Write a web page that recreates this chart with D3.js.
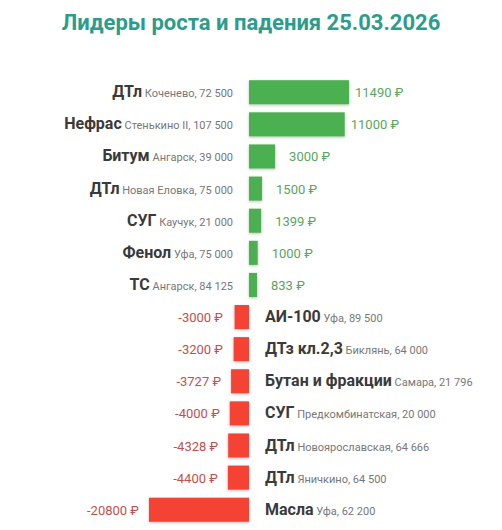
<!DOCTYPE html>
<html><head><meta charset="utf-8">
<script src="https://cdn.jsdelivr.net/npm/d3@7/dist/d3.min.js"></script>
<style>body{margin:0;background:#fff;font-family:Roboto,"Open Sans",sans-serif}</style>
</head><body><svg id="c" width="502" height="530"></svg>
<script>
const title = "Лидеры роста и падения 25.03.2026";
const names = ["ДТл","Нефрас","Битум","ДТл","СУГ","Фенол","ТС","АИ-100","ДТз кл.2,3","Бутан и фракции","СУГ","ДТл","ДТл","Масла"];
const places = ["Коченево, 72 500","Стенькино II, 107 500","Ангарск, 39 000","Новая Еловка, 75 000","Каучук, 21 000","Уфа, 75 000","Ангарск, 84 125","Уфа, 89 500","Биклянь, 64 000","Самара, 21 796","Предкомбинатская, 20 000","Новоярославская, 64 666","Яничкино, 64 500","Уфа, 62 200"];
const values = [11490,11000,3000,1500,1399,1000,833,-3000,-3200,-3727,-4000,-4328,-4400,-20800];

const svg = d3.select("#c");
const defs = svg.append("defs");
const f = defs.append("filter").attr("id","sh").attr("x","-20%").attr("y","-20%").attr("width","140%").attr("height","150%");
f.append("feDropShadow").attr("dx",0).attr("dy",1).attr("stdDeviation",1.5).attr("flood-color","#000").attr("flood-opacity",0.25);

svg.append("text").attr("x",251).attr("y",30).attr("text-anchor","middle")
  .attr("font-size",22).attr("font-weight","bold").attr("fill","#2e9c8c").text(title);

const zero = 249;
const y = d3.scaleBand().domain(d3.range(values.length)).range([77,525]).paddingInner(0.25).paddingOuter(0.1);
const pos = d3.scaleLinear().domain([0,d3.max(values)]).range([0,100]);
const neg = d3.scaleLinear().domain([0,-d3.min(values)]).range([0,100]);
const w = v => v>=0 ? pos(v) : neg(-v);

const g = svg.selectAll("g.row").data(values).join("g").attr("class","row");
g.append("rect")
  .attr("x",v=> v>=0 ? zero : zero - Math.max(w(v),8))
  .attr("y",(v,i)=>y(i)).attr("height",y.bandwidth())
  .attr("width",v=>Math.max(w(v),8))
  .attr("fill",v=>v>=0?"#4cb050":"#f44336").attr("filter","url(#sh)");

g.append("text")
  .attr("x",v=> v>=0 ? zero + Math.max(w(v),8) + (w(v)>50?6:14) : zero - Math.max(w(v),16) - 10)
  .attr("y",(v,i)=>y(i)+y.bandwidth()/2+5)
  .attr("text-anchor",v=>v>=0?"start":"end")
  .attr("font-size",13).attr("fill",v=>v>=0?"#5aa55e":"#c0504d")
  .text(v=>v+" ₽");

g.append("text")
  .attr("x",v=> v>=0 ? 233 : 265)
  .attr("y",(v,i)=>y(i)+y.bandwidth()/2+5)
  .attr("text-anchor",v=>v>=0?"end":"start")
  .each(function(v,i){
    const t=d3.select(this);
    t.append("tspan").attr("font-size",16).attr("font-weight","bold").attr("fill","#3a3a3a").text(names[i]);
    t.append("tspan").attr("font-size",11).attr("fill","#777").text(" "+places[i]);
  });
</script></body></html>
